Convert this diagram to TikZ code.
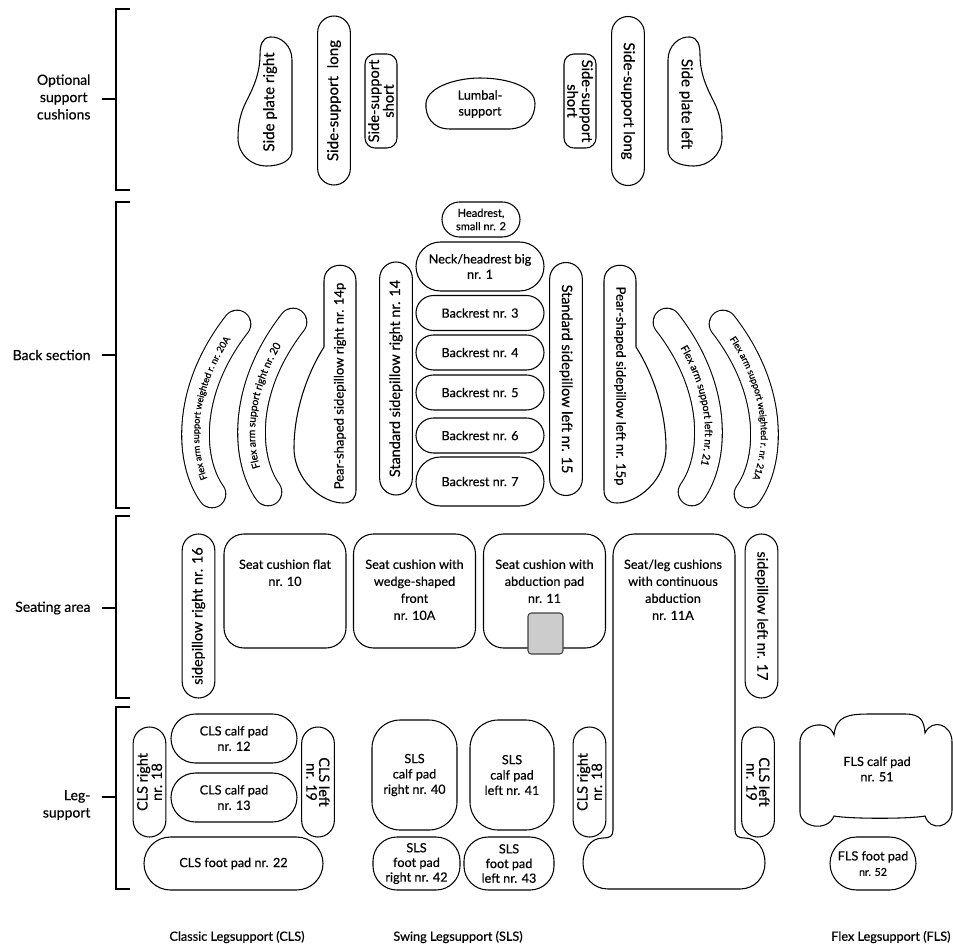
\documentclass[tikz,border=0pt]{standalone}
\usepackage{fontspec}
\setmainfont{Lato}[FakeBold=0.45]
\usetikzlibrary{shapes.misc,decorations.text}
\newcommand\armfont{\fontsize{7.8}{8}\selectfont}
\newcommand\armsmall{\fontsize{7}{7}\selectfont}

\begin{document}
\begin{tikzpicture}[x=0.75pt,y=-0.75pt,line width=0.8pt,
  font=\fontsize{9.5}{11.5}\selectfont,
  pad/.style={draw, rounded rectangle, inner sep=0pt, align=center},
  plate/.style={draw, rounded corners=#1, inner sep=0pt, align=center},
  backrest/.style={pad, minimum width=96pt, minimum height=#1},
  pillar/.style={pad, minimum width=#1, minimum height=24.5pt, font=\fontsize{10.8}{9.5}\selectfont},
  seatbox/.style={draw, rounded corners=15pt, minimum width=91.5pt, minimum height=85.5pt},
  seattext/.style={anchor=north, align=center, inner sep=0pt, font=\fontsize{9.5}{12.75}\selectfont},
  seclabel/.style={anchor=east, align=center, inner sep=0pt, font=\fontsize{10.5}{13}\selectfont},
  grouplabel/.style={inner sep=0pt, font=\fontsize{9.5}{11}\selectfont},
  arm/.style={double=white, double distance=19.9pt, line cap=round},
  armtext/.style={decorate, decoration={text along path, text align=center, raise=-2.7pt, text={#1}}}]
  \useasboundingbox (0,0) rectangle (953,943);

  \draw (130,9) -- (116,9) -- (116,190) -- (130,190) (116,99) -- (102,99);
  \draw (130,202) -- (116,202) -- (116,508) -- (130,508) (116,355) -- (102,355);
  \draw (130,516) -- (116,516) -- (116,698) -- (130,698) (116,608) -- (102,608);
  \draw (130,707) -- (116,707) -- (116,889) -- (130,889) (116,797) -- (102,797);
  \node[seclabel] (optlbl) at (91,97) {Optional\\support\\cushions};
  \node[seclabel] (backlbl) at (91,355) {Back section};
  \node[seclabel] (seatlbl) at (91,608) {Seating area};
  \node[seclabel, align=right] (leglbl) at (91,805) {Leg-\\support};

  \draw (292,150) -- (292,60) .. controls (292,45) and (280,36) .. (270,37) .. controls (262,38) and (260,45) .. (260,55)
    .. controls (260,75) and (252,90) .. (246,102) .. controls (240,114) and (238,125) .. (238,138)
    .. controls (238,155) and (252,166) .. (266,166) .. controls (282,166) and (292,160) .. (292,150) -- cycle;
  \node[rotate=90, font=\fontsize{11.3}{12}\selectfont] (plater) at (270,102) {Side plate right};
  \node[pillar=126.75pt, rotate=90, font=\fontsize{11.3}{12}\selectfont] (longr) at (334,100.5) {Side-support\ \ long};
  \node[plate=7.5pt, rotate=90, minimum width=70.5pt, minimum height=24pt, font=\fontsize{11}{9}\selectfont] (shortr) at (381,101) {Side-support\\short};
  \draw (450,129) .. controls (432,129) and (425,116) .. (426,103) .. controls (428,86) and (458,78) .. (480,78)
    .. controls (510,78) and (535,88) .. (535,103) .. controls (535,119) and (526,128) .. (510,129) -- cycle;
  \node[align=center, font=\fontsize{9.5}{12}\selectfont] (lumbal) at (480,104) {Lumbal-\\support};
  \node[plate=7.5pt, rotate=-90, minimum width=70.5pt, minimum height=24pt, font=\fontsize{11}{9}\selectfont] (shortl) at (580,101) {Side-support\\short};
  \node[pillar=126.75pt, rotate=-90, font=\fontsize{11.3}{12}\selectfont] (longl) at (628,101) {Side-support long};
  \draw (668,150) -- (668,60) .. controls (668,45) and (680,36) .. (690,37) .. controls (698,38) and (700,45) .. (700,55)
    .. controls (700,75) and (708,90) .. (714,102) .. controls (720,114) and (722,125) .. (722,138)
    .. controls (722,155) and (708,166) .. (694,166) .. controls (678,166) and (668,160) .. (668,150) -- cycle;
  \node[rotate=-90, font=\fontsize{11.3}{12}\selectfont] (platel) at (686,104) {Side plate left};

  \node[pad, minimum width=58.5pt, minimum height=26.25pt, font=\fontsize{8.3}{10}\selectfont] (head2) at (481,219.5) {Headrest,\\small nr. 2};
  \node[backrest=36.75pt] (neck1) at (480,266.5) {Neck/headrest big\\nr. 1};
  \node[backrest=26.25pt] (back3) at (480,313) {Backrest nr. 3};
  \node[backrest=26.25pt] (back4) at (480,352.5) {Backrest nr. 4};
  \node[backrest=26.25pt] (back5) at (480,392.5) {Backrest nr. 5};
  \node[backrest=26.25pt] (back6) at (480,435.5) {Backrest nr. 6};
  \node[backrest=36.75pt] (back7) at (480,481.5) {Backrest nr. 7};
  \node[pillar=174.75pt, rotate=90] (std14) at (396,378.5) {Standard sidepillow right nr. 14};
  \node[pillar=174.75pt, rotate=-90] (std15) at (566,379) {Standard sidepillow left nr. 15};

  \draw (356,490) -- (356,281) .. controls (356,260) and (324,260) .. (324,281) -- (324,347)
    .. controls (308,372) and (294,410) .. (294,448) .. controls (294,480) and (322,503) .. (343,503)
    .. controls (352,503) and (356,498) .. (356,490) -- cycle;
  \node[rotate=90, font=\fontsize{9.8}{10}\selectfont] (pear14) at (340,386) {Pear-shaped sidepillow right nr. 14p};
  \draw (604,490) -- (604,281) .. controls (604,260) and (636,260) .. (636,281) -- (636,347)
    .. controls (652,372) and (666,410) .. (666,448) .. controls (666,480) and (638,503) .. (617,503)
    .. controls (608,503) and (604,498) .. (604,490) -- cycle;
  \node[rotate=-90, font=\fontsize{9.8}{10}\selectfont] (pear15) at (620,386) {Pear-shaped sidepillow left nr. 15p};

  \draw[arm] (268,492) .. controls (245,460) and (240,390) .. (293,322);
  \path[armtext={|\armfont|Flex arm support right nr. 20}] (268,492) .. controls (245,460) and (240,390) .. (293,322);
  \draw[arm] (212,494) .. controls (189,462) and (184,392) .. (237,324);
  \path[armtext={|\armsmall|Flex arm support weighted r. nr. 20A}] (212,494) .. controls (189,462) and (184,392) .. (237,324);
  \draw[arm] (667,322) .. controls (720,390) and (715,460) .. (692,492);
  \path[armtext={|\armfont|Flex arm support left nr. 21}] (667,322) .. controls (720,390) and (715,460) .. (692,492);
  \draw[arm] (723,324) .. controls (776,392) and (771,462) .. (748,494);
  \path[armtext={|\armsmall|Flex arm support weighted r. nr. 21A}] (723,324) .. controls (776,392) and (771,462) .. (748,494);

  \node[pillar=123pt, rotate=90] (side16) at (198.5,616) {sidepillow right nr. 16};
  \node[seatbox] (seat10) at (285,591) {};
  \node[seattext] (seat10txt) at (285,559) {Seat cushion flat\\nr. 10};
  \node[seatbox] (seat10a) at (414.5,591) {};
  \node[seattext] (seat10atxt) at (414.5,559) {Seat cushion with\\wedge-shaped\\front\\nr. 10A};
  \node[seatbox] (seat11) at (544.5,591) {};
  \node[seattext] (seat11txt) at (544.5,559) {Seat cushion with\\abduction pad\\nr. 11};
  \node[draw=black!75, fill=gray!40, rounded corners=2.5pt, minimum width=26.25pt, minimum height=30.75pt, inner sep=0pt] (abduction) at (545.5,633.5) {};
  \draw (613,830) [rounded corners=16pt] -- (613,534) -- (735,534) [sharp corners] -- (735,830)
    .. controls (735,836) and (738,838) .. (745,838) .. controls (758,838) and (765,850) .. (765,863)
    .. controls (765,877) and (755,889) .. (740,889) -- (608,889) .. controls (593,889) and (583,877) .. (583,863)
    .. controls (583,850) and (590,838) .. (603,838) .. controls (610,838) and (613,836) .. (613,830) -- cycle;
  \node[seattext] (seat11atxt) at (673,559) {Seat/leg cushions\\with continuous\\abduction\\nr. 11A};
  \node[pillar=123pt, rotate=-90] (side17) at (761.5,616) {sidepillow left nr. 17};

  \node[pillar=82.5pt, rotate=90] (cls18) at (149.5,782) {CLS right\\nr. 18};
  \node[pad, minimum width=94.5pt, minimum height=36.75pt] (calf12) at (234,738.5) {CLS calf pad\\nr. 12};
  \node[pad, minimum width=94.5pt, minimum height=36.75pt] (calf13) at (234,797.5) {CLS calf pad\\nr. 13};
  \node[pillar=82.5pt, rotate=-90] (cls19) at (318,782) {CLS left\\nr. 19};
  \node[pad, minimum width=134.25pt, minimum height=39.75pt] (foot22) at (233.5,863.5) {CLS foot pad nr. 22};
  \node[plate=21pt, minimum width=63.75pt, minimum height=82.5pt] (sls40) at (414.5,775) {SLS\\calf pad\\right nr. 40};
  \node[plate=21pt, minimum width=63pt, minimum height=82.5pt] (sls41) at (512,775) {SLS\\calf pad\\left nr. 41};
  \node[plate=18pt, minimum width=65.25pt, minimum height=39.75pt, font=\fontsize{9.5}{11}\selectfont] (sls42) at (416.5,863.5) {SLS\\foot pad\\right nr. 42};
  \node[plate=18pt, minimum width=67.5pt, minimum height=39.75pt, font=\fontsize{9.5}{11}\selectfont] (sls43) at (509,863.5) {SLS\\foot pad\\left nr. 43};
  \node[pillar=82.5pt, rotate=90] (cls18b) at (589.5,782) {CLS right\\nr. 18};
  \node[pillar=82.5pt, rotate=-90] (cls19b) at (758,782) {CLS left\\nr. 19};
  \draw (800,812) -- (800,742) .. controls (800,724) and (828,718) .. (834,735) .. controls (836,716) and (848,714) .. (870,714)
    -- (905,714) .. controls (920,714) and (924,720) .. (925,733) .. controls (932,718) and (952,724) .. (952,742)
    -- (952,810) .. controls (952,828) and (930,832) .. (925,816) .. controls (910,819) and (850,819) .. (834,816)
    .. controls (828,832) and (800,828) .. (800,812) -- cycle;
  \node[align=center] (fls51) at (877,769) {FLS calf pad\\nr. 51};
  \node[pad, minimum width=64.5pt, minimum height=39.75pt] (fls52) at (873,863.5) {FLS foot pad\\{\fontsize{8}{9}\selectfont nr. 52}};

  \node[grouplabel] (clslbl) at (237,937) {Classic Legsupport (CLS)};
  \node[grouplabel] (slslbl) at (458,937) {Swing Legsupport (SLS)};
  \node[grouplabel, anchor=east] (flslbl) at (951,937) {Flex Legsupport (FLS)};
\end{tikzpicture}
\end{document}
